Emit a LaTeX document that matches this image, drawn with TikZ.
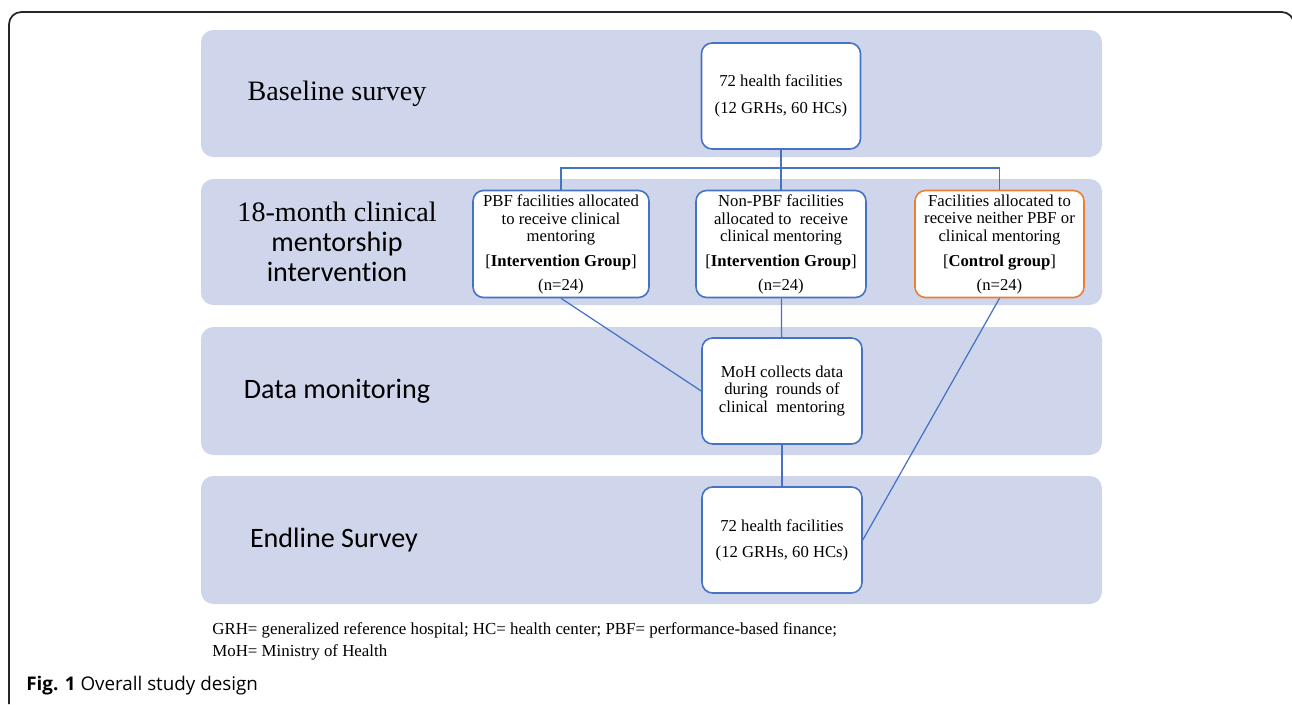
\documentclass[tikz,border=0pt]{standalone}
\usepackage{fontspec}
\setmainfont{Liberation Serif}
\newfontfamily\bandsans[Ligatures=NoCommon]{Carlito}
\newfontfamily\capsans{Open Sans}
\usepackage{xcolor}
\usepackage{tikz}
\usetikzlibrary{positioning}

\definecolor{bandfill}{HTML}{CFD5EA}
\definecolor{boxblue}{HTML}{4472C4}
\definecolor{boxorange}{HTML}{ED7D31}

\tikzset{
	band/.style={fill=bandfill, rounded corners=7pt},
	bandlabel/.style={align=center, inner sep=0pt, font=\fontsize{16}{17}\selectfont},
	facbox/.style={draw=boxblue, fill=white, line width=0.9pt, rounded corners=6pt,
		align=center, inner sep=1pt, font=\fontsize{9.5}{10.2}\selectfont},
	link/.style={draw=boxblue, line width=0.7pt},
}

\begin{document}
\begin{tikzpicture}[x=0.02cm, y=-0.02cm]
	\useasboundingbox (0,0) rectangle (1292,704);
	% frame and bands
	\draw[line width=1pt, draw=black!85, rounded corners=7pt] (9,704) -- (9,12) -- (1294,12) -- (1294,704);
	\fill[band] (201,30) rectangle (1102,157);
	\fill[band] (201,179) rectangle (1102,305);
	\fill[band] (201,327) rectangle (1102,455);
	\fill[band] (201,476) rectangle (1102,604);
	% band labels
	\node[bandlabel] (lbase) at (337,94) {Baseline survey};
	\node[bandlabel] (lment) at (337,242) {18-month clinical\\{\bandsans mentorship}\\{\bandsans intervention}};
	\node[bandlabel, font=\bandsans\fontsize{16}{17}\selectfont] (lmon) at (337,391) {Data monitoring};
	\node[bandlabel, font=\bandsans\fontsize{16}{17}\selectfont] (lend) at (334,540) {Endline Survey};
	% nodes
	\node[facbox, minimum width=3.18cm, minimum height=2.12cm, font=\fontsize{9.5}{15.4}\selectfont] (base) at (781,96) {72 health facilities\\(12 GRHs, 60 HCs)};
	\node[facbox, minimum width=3.52cm, minimum height=2.14cm] (pbf) at (561,244) {PBF facilities allocated\\to receive clinical\\mentoring\\[4pt][\textbf{Intervention Group}]\\[3pt](n=24)};
	\node[facbox, minimum width=3.4cm, minimum height=2.14cm] (npbf) at (781,244) {Non-PBF facilities\\allocated to~ receive\\clinical mentoring\\[4pt][\textbf{Intervention Group}]\\[3pt](n=24)};
	\node[facbox, draw=boxorange, minimum width=3.38cm, minimum height=2.14cm] (ctrl) at (999.5,244) {Facilities allocated to\\receive neither PBF or\\clinical mentoring\\[4pt][\textbf{Control group}]\\[3pt](n=24)};
	\node[facbox, minimum width=3.2cm, minimum height=2.12cm, font=\fontsize{9.5}{10}\selectfont] (moh) at (782,391) {MoH collects data\\during~ rounds of\\clinical~ mentoring};
	\node[facbox, minimum width=3.2cm, minimum height=2.12cm, font=\fontsize{9.5}{14.8}\selectfont] (endl) at (782,540) {72 health facilities\\(12 GRHs, 60 HCs)};
	\coordinate (split) at (781,168);
	%
	\path[link]
	% tree below baseline
	(base) edge (split)
	(split) edge (npbf)
	% down to monitoring and endline
	(pbf.south) edge (moh.west)
	(npbf) edge (moh)
	(moh) edge (endl)
	(ctrl.south) edge (endl.east);
	\draw[link] (pbf.north) |- (split) -| (ctrl.north);
	% notes
	\node[anchor=west, align=left, inner sep=0pt, font=\fontsize{9.6}{12.5}\selectfont] (note) at (212,641) {GRH= generalized reference hospital; HC= health center; PBF= performance-based finance;\\MoH= Ministry of Health};
	\node[anchor=west, inner sep=0pt, font=\capsans\fontsize{10.7}{12}\selectfont] (cap) at (26,686) {\textbf{Fig. 1} Overall study design};
\end{tikzpicture}
\end{document}
